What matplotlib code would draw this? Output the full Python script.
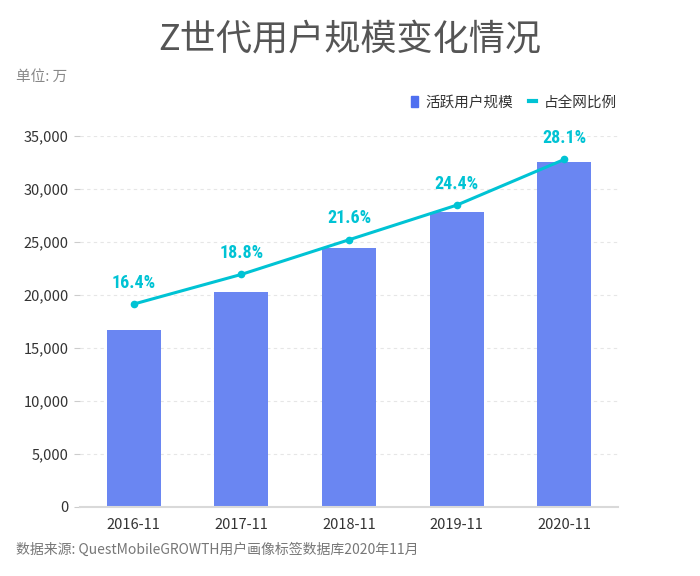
import matplotlib
matplotlib.use("Agg")
import matplotlib.pyplot as plt
from matplotlib.ticker import FuncFormatter
from matplotlib.lines import Line2D
from matplotlib.patches import Patch

plt.rcParams['font.family'] = ['Noto Sans CJK SC', 'DejaVu Sans']

categories = ['2016-11', '2017-11', '2018-11', '2019-11', '2020-11']
users = [16700, 20300, 24400, 27800, 32500]
share = [16.4, 18.8, 21.6, 24.4, 28.1]
yticks = [0, 5000, 10000, 15000, 20000, 25000, 30000, 35000]

bar_color = '#6a86f2'
line_color = '#00c3d4'

fig = plt.figure(figsize=(7, 5.76), dpi=100)
ax = fig.add_axes([0.114, 0.12, 0.769, 0.644])
x = list(range(len(categories)))
ax.bar(x, users, width=0.5, color=bar_color, zorder=2)
ax.set_xlim(-0.5, 4.5)
ax.set_ylim(0, 35000)
ax.set_yticks(yticks)
ax.yaxis.set_major_formatter(FuncFormatter(lambda v, p: f'{int(v):,}'))
ax.set_xticks(x)
ax.set_xticklabels(categories)
ax.grid(axis='y', color='#e6e6e6', linestyle=(0, (3, 3)), linewidth=0.8, zorder=0)
for s in ['top', 'right', 'left']:
    ax.spines[s].set_visible(False)
ax.spines['bottom'].set_color('#d9d9d9')
ax.spines['bottom'].set_linewidth(1.5)
ax.tick_params(axis='y', length=4, color='#cccccc', labelsize=10.5, labelcolor='#333333', pad=4)
ax.tick_params(axis='x', length=0, labelsize=10.5, labelcolor='#333333', pad=8)

ax2 = ax.twinx()
ax2.set_ylim(0, 30)
ax2.plot(x, share, color=line_color, linewidth=2.2, marker='o', markersize=4.5, zorder=3)
for xi, v in zip(x, share):
    ax2.annotate(f'{v}%', (xi, v), xytext=(0, 9), textcoords='offset points',
                 ha='center', va='bottom', color=line_color, fontsize=13,
                 fontweight='bold', family=['Roboto Condensed', 'Roboto', 'DejaVu Sans'])
ax2.set_yticks([])
for s in ['top', 'right', 'left', 'bottom']:
    ax2.spines[s].set_visible(False)

fig.text(0.5, 0.932, 'Z世代用户规模变化情况', ha='center', va='center', fontsize=26, color='#555555')
fig.text(0.023, 0.866, '单位: 万', ha='left', va='center', fontsize=10.5, color='#888888')
fig.text(0.023, 0.046, '数据来源: QuestMobileGROWTH用户画像标签数据库2020年11月', ha='left', va='center',
         fontsize=10, color='#777777')

handles = [Patch(color='#4f6ff0'), Line2D([0], [0], color=line_color, linewidth=3)]
leg = fig.legend(handles, ['活跃用户规模', '占全网比例'], loc='center right',
                 bbox_to_anchor=(0.881, 0.822), ncol=2, frameon=False, fontsize=10.5,
                 handlelength=0.5, handleheight=0.7, handletextpad=0.5, columnspacing=1.1,
                 borderaxespad=0, borderpad=0)
for t in leg.get_texts():
    t.set_color('#333333')

fig.savefig('out.png', dpi=100)
